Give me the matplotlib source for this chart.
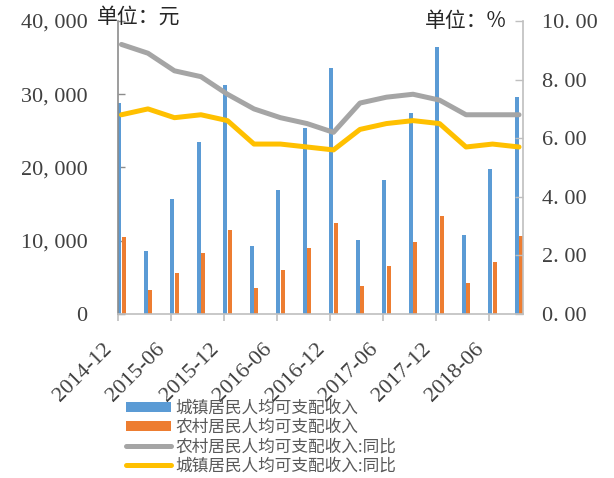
import matplotlib
matplotlib.use("Agg")
import matplotlib.pyplot as plt
import numpy as np
from matplotlib.patches import Patch
from matplotlib.lines import Line2D
from matplotlib.ticker import FuncFormatter, FixedLocator
from matplotlib.transforms import ScaledTranslation

# Quarterly cumulative per-capita disposable income (yuan) and real YoY growth (%)
periods = ['2014-12', '2015-03', '2015-06', '2015-09', '2015-12',
           '2016-03', '2016-06', '2016-09', '2016-12',
           '2017-03', '2017-06', '2017-09', '2017-12',
           '2018-03', '2018-06', '2018-09']
urban_income = [28844, 8572, 15699, 23512, 31195, 9255, 16957, 25337, 33616,
                10065, 18322, 27430, 36396, 10781, 19770, 29599]
rural_income = [10489, 3265, 5554, 8297, 11422, 3578, 6050, 9059, 12363,
                3880, 6562, 9778, 13432, 4226, 7142, 10645]
rural_yoy = [9.2, 8.9, 8.3, 8.1, 7.5, 7.0, 6.7, 6.5, 6.2,
             7.2, 7.4, 7.5, 7.3, 6.8, 6.8, 6.8]
urban_yoy = [6.8, 7.0, 6.7, 6.8, 6.6, 5.8, 5.8, 5.7, 5.6,
             6.3, 6.5, 6.6, 6.5, 5.7, 5.8, 5.7]
tick_labels = ['2014-12', '2015-06', '2015-12', '2016-06',
               '2016-12', '2017-06', '2017-12', '2018-06']

labels = ['城镇居民人均可支配收入', '农村居民人均可支配收入',
          '农村居民人均可支配收入:同比', '城镇居民人均可支配收入:同比']

BLUE, ORANGE, GRAY, YELLOW = '#5B9BD5', '#ED7D31', '#A5A5A5', '#FFC000'
CJK = ['Noto Sans CJK SC', 'DejaVu Sans']
NUM = 'Liberation Serif'
TXT = '#404040'

fig = plt.figure(figsize=(6.14, 4.78), dpi=100)
ax = fig.add_axes([118 / 614, 1 - 314 / 478, (523 - 118) / 614, (314 - 21) / 478])
ax2 = ax.twinx()

x = np.arange(len(periods))
w = 0.15
ax.bar(x - 0.09, urban_income, width=w, color=BLUE, zorder=2)
ax.bar(x + 0.09, rural_income, width=w, color=ORANGE, zorder=2)

lw = 3.6
ax2.plot(x, rural_yoy, color=GRAY, lw=lw, solid_capstyle='round', solid_joinstyle='round')
ax2.plot(x, urban_yoy, color=YELLOW, lw=lw, solid_capstyle='round', solid_joinstyle='round')

ax.set_xlim(-0.13, 15.15)
ax.set_ylim(0, 40000)
ax2.set_ylim(0, 10)
ax.set_yticks(np.arange(0, 40001, 10000))
ax2.set_yticks(np.arange(0, 10.01, 2))
ax.yaxis.set_major_formatter(FuncFormatter(lambda v, p: f'{int(v):,}'.replace(',', ', ')))
ax2.yaxis.set_major_formatter(FuncFormatter(lambda v, p: f'{v:.2f}'.replace('.', '. ')))

for s in ['top']:
    ax.spines[s].set_visible(False)
    ax2.spines[s].set_visible(False)
ax.spines['left'].set_color('#8C8C8C')
ax.spines['bottom'].set_color('#BFBFBF')
ax2.spines['right'].set_color('#BFBFBF')
ax2.spines['left'].set_visible(False)
ax2.spines['bottom'].set_visible(False)
ax.spines['right'].set_visible(False)
for sp in ax.spines.values():
    sp.set_linewidth(1.2)
ax2.spines['right'].set_linewidth(1.2)

ax.tick_params(axis='y', direction='in', length=5, width=1, color='#8C8C8C',
               labelsize=16, labelcolor=TXT, pad=22)
ax.tick_params(axis='x', direction='out', length=5, width=1.2, color='#BFBFBF', pad=12)
ax2.tick_params(axis='y', direction='in', length=6, width=1, color='#BFBFBF',
                labelsize=16, labelcolor=TXT, pad=14)
for t in ax.get_yticklabels() + ax2.get_yticklabels():
    t.set_fontfamily(NUM)

tick_pos = [-0.13 + 2 * k for k in range(len(tick_labels))]
ax.xaxis.set_major_locator(FixedLocator(tick_pos))
ax.set_xticklabels(tick_labels, rotation=45, ha='right', va='top',
                   rotation_mode='anchor', fontfamily=NUM, fontsize=16, color=TXT)
# nudge the slanted date labels down-left of their ticks
shift = ScaledTranslation(-15 / 100, -2 / 100, fig.dpi_scale_trans)
for t in ax.get_xticklabels():
    t.set_transform(t.get_transform() + shift)

fig.text(97 / 614, 1 - 17 / 478, '单位：元', family=CJK, fontsize=15, color='#262626',
         ha='left', va='center')
fig.text(425 / 614, 1 - 21 / 478, '单位：%', family=CJK, fontsize=15, color='#262626',
         ha='left', va='center')

handles = [Patch(facecolor=BLUE), Patch(facecolor=ORANGE),
           Line2D([], [], color=GRAY, lw=lw, solid_capstyle='round'),
           Line2D([], [], color=YELLOW, lw=lw, solid_capstyle='round')]
leg = fig.legend(handles, labels, loc='upper left', bbox_to_anchor=(114 / 614, 1 - 388 / 478),
                 frameon=False, prop={'family': CJK, 'size': 12}, labelspacing=0.14,
                 handlelength=2.7, handleheight=0.55, handletextpad=0.3, borderpad=0.2)
for t in leg.get_texts():
    t.set_color('#595959')

fig.savefig('out.png', dpi=100)
